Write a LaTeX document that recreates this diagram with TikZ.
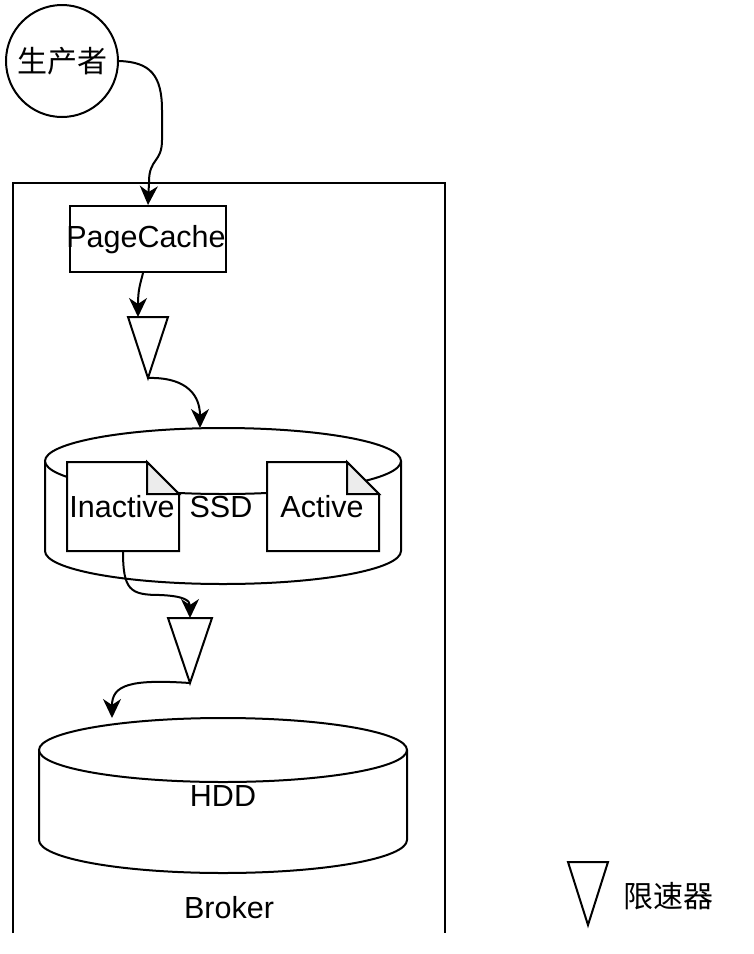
\documentclass[tikz,border=0pt]{standalone}
\usepackage{fontspec}
\setmainfont{Liberation Sans}
\newfontfamily\cjk{Noto Sans CJK SC}
\usetikzlibrary{arrows.meta}
\begin{document}
\begin{tikzpicture}[x=1pt,y=-1pt,
  every node/.style={font=\fontsize{30.5}{36}\selectfont, inner sep=0pt},
  line/.style={line width=2pt},
  conn/.style={line width=2pt, -{Stealth[length=19pt,width=18pt,inset=6pt]}},
  area/.style={inner sep=0pt, outer sep=0pt},
  tri/.style={line width=2pt, fill=white}]
\useasboundingbox[fill=white] (0,0) rectangle (754,954);

% Broker container (open at bottom)
\node[area, minimum width=432pt, minimum height=750pt] (broker) at (229,558) {};
\draw[line] (broker.south west) -- (broker.north west) -- (broker.north east) -- (broker.south east);
\node (brokerlabel) at (229,908) {Broker};

% Producer
\node[draw, line width=2pt, circle, minimum size=112pt, font=\cjk\fontsize{30}{36}\selectfont] (prod) at (62,61) {生产者};

% PageCache
\node[draw, line width=2pt, minimum width=156pt, minimum height=66pt] (pc) at (148,239) {};
\node (pclabel) at (146,240) {PageCache};

% limiter 1
\node[area, minimum width=40pt, minimum height=61pt] (t1) at (148,347.5) {};
\draw[tri] (t1.north west) -- (t1.north east) -- (t1.south) -- cycle;

% SSD cylinder
\node[area, minimum width=356pt, minimum height=156pt] (ssd) at (223,506) {};
\draw[line, fill=white] (45,461) -- (45,551) arc[start angle=180, end angle=360, x radius=178pt, y radius=33pt] -- (401,461);
\draw[line, fill=white] (223,461) ellipse[x radius=178pt, y radius=33pt];
\node (ssdlabel) at (221,507) {SSD};

% Inactive doc
\node[area, minimum width=112pt, minimum height=89pt] (inact) at (123,506.5) {};
\draw[line, fill=white] (inact.north west) -- ([xshift=-32pt]inact.north east) -- ([yshift=-32pt]inact.north east) -- (inact.south east) -- (inact.south west) -- cycle;
\draw[line, fill=gray!15] ([xshift=-32pt]inact.north east) -- ([xshift=-32pt,yshift=-32pt]inact.north east) -- ([yshift=-32pt]inact.north east) -- cycle;
\node (inactlabel) at (122,507) {Inactive};

% Active doc
\node[area, minimum width=112pt, minimum height=89pt] (act) at (323,506.5) {};
\draw[line, fill=white] (act.north west) -- ([xshift=-32pt]act.north east) -- ([yshift=-32pt]act.north east) -- (act.south east) -- (act.south west) -- cycle;
\draw[line, fill=gray!15] ([xshift=-32pt]act.north east) -- ([xshift=-32pt,yshift=-32pt]act.north east) -- ([yshift=-32pt]act.north east) -- cycle;
\node (actlabel) at (322,507) {Active};

% limiter 2
\node[area, minimum width=44pt, minimum height=65pt] (t2) at (190,650.5) {};
\draw[tri] (t2.north west) -- (t2.north east) -- (t2.south) -- cycle;

% HDD cylinder
\node[area, minimum width=368pt, minimum height=155pt] (hdd) at (223,795.5) {};
\draw[line, fill=white] (39,750) -- (39,840) arc[start angle=180, end angle=360, x radius=184pt, y radius=33pt] -- (407,750);
\draw[line, fill=white] (223,750) ellipse[x radius=184pt, y radius=32pt];
\node (hddlabel) at (223,796) {HDD};

% legend
\node[area, minimum width=40pt, minimum height=63pt] (leg) at (588,893.5) {};
\draw[tri] (leg.north west) -- (leg.north east) -- (leg.south) -- cycle;
\node[font=\cjk\fontsize{30}{36}\selectfont] (legtext) at (668,896) {限速器};

% connectors
\draw[conn] (prod.east) .. controls (150,62) and (162,75) .. (162,110) -- (162,140) .. controls (162,163) and (149,158) .. (149,182) -- (pc.north);
\draw[conn] ([xshift=-5pt]pc.south) .. controls (140,285) and (138,290) .. ([xshift=-10pt]t1.north);
\draw[conn] (t1.south) .. controls (180,377) and (200,390) .. ([xshift=-23pt]ssd.north);
\draw[conn] ([xshift=0pt]inact.south) .. controls (123,590) and (130,595) .. (160,595) .. controls (183,596) and (190,600) .. (t2.north);
\draw[conn] (t2.south) .. controls (130,679) and (112,685) .. ([xshift=-111pt]hdd.north);
\end{tikzpicture}
\end{document}
